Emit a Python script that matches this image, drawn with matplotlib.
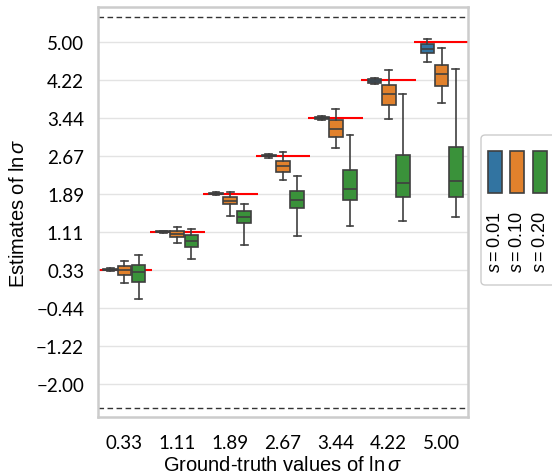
import numpy as np
import matplotlib.pyplot as plt
from matplotlib.patches import Rectangle, FancyBboxPatch

# ground-truth values of ln sigma (x categories)
truth = [0.33, 1.11, 1.89, 2.67, 3.44, 4.22, 5.00]
xlabels = ["0.33", "1.11", "1.89", "2.67", "3.44", "4.22", "5.00"]
yticks = [-2.00, -1.22, -0.44, 0.33, 1.11, 1.89, 2.67, 3.44, 4.22, 5.00]

# box stats: [whislo, q1, med, q3, whishi]
s001 = [[0.30, 0.32, 0.335, 0.345, 0.36],
        [1.08, 1.10, 1.11, 1.12, 1.13],
        [1.86, 1.88, 1.89, 1.90, 1.92],
        [2.63, 2.655, 2.665, 2.675, 2.70],
        [3.40, 3.415, 3.435, 3.455, 3.47],
        [4.13, 4.15, 4.19, 4.23, 4.26],
        [4.58, 4.76, 4.86, 4.945, 5.06]]
s010 = [[0.07, 0.23, 0.325, 0.41, 0.52],
        [0.89, 1.01, 1.07, 1.13, 1.21],
        [1.44, 1.68, 1.75, 1.82, 1.92],
        [2.16, 2.33, 2.45, 2.56, 2.75],
        [2.83, 3.05, 3.22, 3.40, 3.63],
        [3.42, 3.70, 3.92, 4.12, 4.42],
        [3.74, 4.10, 4.33, 4.52, 4.88]]
s020 = [[-0.26, 0.09, 0.28, 0.44, 0.63],
        [0.56, 0.80, 0.92, 1.04, 1.17],
        [0.84, 1.28, 1.41, 1.53, 1.68],
        [1.02, 1.60, 1.77, 1.95, 2.25],
        [1.22, 1.76, 1.99, 2.38, 3.09],
        [1.33, 1.83, 2.11, 2.69, 3.93],
        [1.42, 1.82, 2.14, 2.84, 4.45]]
series = [s001, s010, s020]
labels = [r"$s=0.01$", r"$s=0.10$", r"$s=0.20$"]
colors = ["#3274a1", "#e1812c", "#3a923a"]
lower_bound, upper_bound = -2.5, 5.5

plt.rcParams['font.family'] = ['Lato', 'DejaVu Sans']
plt.rcParams['mathtext.fontset'] = 'custom'
plt.rcParams['mathtext.rm'] = 'Liberation Sans'
plt.rcParams['mathtext.it'] = 'Liberation Sans:italic'
plt.rcParams['mathtext.sf'] = 'Liberation Sans'

W, H = 552, 477
fig = plt.figure(figsize=(W/100, H/100), dpi=100)
ax = fig.add_axes([98/W, 1-418/H, 370/W, 410/H])

# grid
for y in yticks:
    ax.axhline(y, color="#e3e3e3", lw=1, zorder=0)

# truth lines
for i, t in enumerate(truth):
    ax.hlines(t, i-0.52, i+0.52, color="red", lw=1.5, zorder=1)

# dashed bounds
ax.axhline(upper_bound, color="#333333", lw=1, ls=(0, (4, 2.5)), zorder=1)
ax.axhline(lower_bound, color="#333333", lw=1, ls=(0, (4, 2.5)), zorder=1)

# boxes
offs = [-0.267, 0.0, 0.267]
edge = "#3f3f3f"
for k in range(3):
    stats = []
    for i, v in enumerate(series[k]):
        stats.append(dict(whislo=v[0], q1=v[1], med=v[2], q3=v[3], whishi=v[4], fliers=[]))
    pos = [i + offs[k] for i in range(len(truth))]
    ax.bxp(stats, positions=pos, widths=0.26, patch_artist=True, showfliers=False,
           boxprops=dict(facecolor=colors[k], edgecolor=edge, lw=1.2),
           medianprops=dict(color=edge, lw=1.2),
           whiskerprops=dict(color=edge, lw=1.2),
           capprops=dict(color=edge, lw=1.2),
           manage_ticks=False, zorder=2)

ax.set_xlim(-0.5, 6.5)
ax.set_ylim(-2.68, 5.71)
ax.set_xticks(range(len(truth)))
ax.set_xticklabels(xlabels)
ax.set_yticks(yticks)
ax.set_yticklabels([("%.2f" % y).replace("-", "\u2212") for y in yticks])
ax.tick_params(length=0, labelsize=13.5)
ax.tick_params(axis="y", pad=10)
ax.tick_params(axis="x", pad=12)
for sp in ax.spines.values():
    sp.set_color("#cccccc")
    sp.set_linewidth(1.8)
ax.set_xlabel(r"Ground-truth values of $\ln\sigma$", fontsize=14.5, family="Liberation Sans", labelpad=3)
ax.set_ylabel(r"Estimates of $\ln\sigma$", fontsize=14.5, family="Liberation Sans", labelpad=6)

# legend drawn by hand (vertical entries)
def fx(px):
    return px / W
def fy(py):
    return 1 - py / H

box = FancyBboxPatch((fx(481), fy(286)), fx(80), 150/H, boxstyle="round,pad=0,rounding_size=0.008",
                     transform=fig.transFigure, facecolor="white", edgecolor="#cccccc", lw=1,
                     clip_on=False)
fig.patches.append(box)
for k in range(3):
    x0 = 488 + k*22.3
    r = Rectangle((fx(x0), fy(194)), 14/W, 42/H, transform=fig.transFigure,
                  facecolor=colors[k], edgecolor=edge, lw=1.2)
    fig.patches.append(r)
    fig.text(fx(x0+7.5), fy(211), labels[k], rotation=90, ha="center", va="top",
             fontsize=13, family="Liberation Sans")

fig.savefig("out.png", dpi=100)
